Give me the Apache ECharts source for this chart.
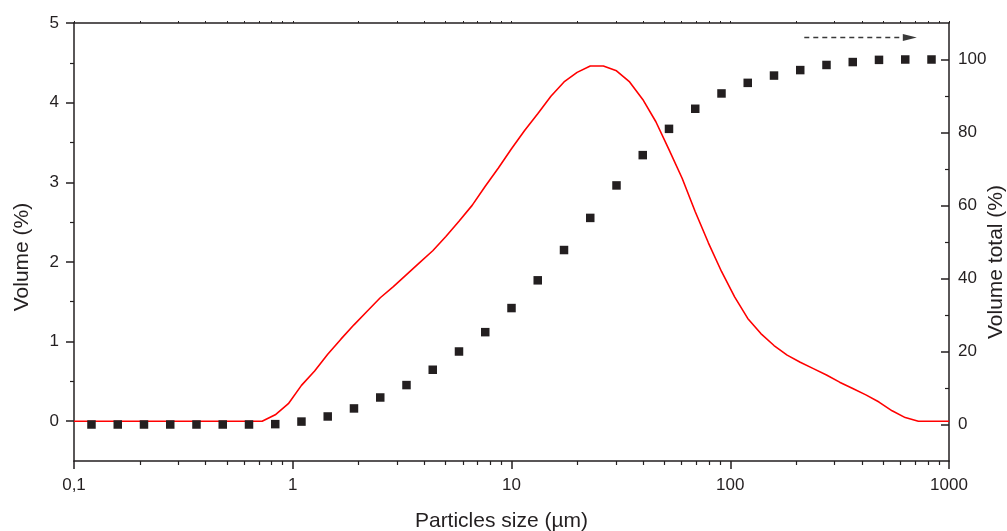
<!DOCTYPE html>
<html>
<head>
<meta charset="utf-8">
<script src="https://cdn.jsdelivr.net/npm/echarts@6/dist/echarts.min.js"></script>
<style>html,body{margin:0;padding:0;background:#fff}#c{width:1007px;height:531px}</style>
</head>
<body>
<div id="c"></div>
<script>
// Particle size (µm) for the frequency curve
const lineSizes = [0.1, 0.7244, 0.8318, 0.955, 1.096, 1.259, 1.445, 1.66, 1.905, 2.188, 2.512, 2.884, 3.311, 3.802, 4.365, 5.012, 5.754, 6.607, 7.586, 8.71, 10, 11.48, 13.18, 15.14, 17.38, 19.95, 22.91, 26.3, 30.2, 34.67, 39.81, 45.71, 52.48, 60.26, 69.18, 79.43, 91.2, 104.7, 120.2, 138, 158.5, 182, 208.9, 239.9, 275.4, 316.2, 363.1, 416.9, 478.6, 549.5, 631, 724.4, 1000];
// Volume (%)
const volume = [0, 0, 0.08, 0.22, 0.45, 0.63, 0.84, 1.03, 1.21, 1.38, 1.55, 1.69, 1.84, 1.99, 2.14, 2.32, 2.51, 2.71, 2.95, 3.18, 3.42, 3.65, 3.86, 4.08, 4.26, 4.38, 4.46, 4.46, 4.40, 4.26, 4.04, 3.76, 3.41, 3.05, 2.63, 2.24, 1.88, 1.56, 1.29, 1.10, 0.95, 0.83, 0.74, 0.66, 0.58, 0.49, 0.41, 0.33, 0.24, 0.13, 0.045, 0, 0];
// Particle size (µm) for the cumulative points
const cumSizes = [0.1202, 0.1585, 0.2089, 0.2754, 0.363, 0.4786, 0.631, 0.8318, 1.096, 1.445, 1.905, 2.512, 3.311, 4.365, 5.754, 7.586, 10, 13.18, 17.38, 22.91, 30.2, 39.81, 52.48, 69.18, 91.2, 120.2, 158.5, 208.9, 275.4, 363.1, 478.6, 631, 831.8];
// Volume total (%)
const volumeTotal = [0, 0, 0, 0, 0, 0, 0, 0.1, 0.8, 2.2, 4.4, 7.4, 10.8, 15.0, 20.0, 25.3, 31.9, 39.5, 47.8, 56.6, 65.5, 73.8, 81.0, 86.5, 90.7, 93.6, 95.6, 97.1, 98.5, 99.3, 99.9, 100, 100];
// Tick values
const xMajorTicks = [0.1, 1, 10, 100, 1000];
const xMinorTicks = [0.2, 0.3, 0.4, 0.5, 0.6, 0.7, 0.8, 0.9, 2, 3, 4, 5, 6, 7, 8, 9, 20, 30, 40, 50, 60, 70, 80, 90, 200, 300, 400, 500, 600, 700, 800, 900];
const yLeftTicks = [0, 1, 2, 3, 4, 5];
const yLeftMinorTicks = [0.5, 1.5, 2.5, 3.5, 4.5];
const yRightTicks = [0, 20, 40, 60, 80, 100];
const yRightMinorTicks = [10, 30, 50, 70, 90];
// Arrow annotation (data coords on the cumulative axes)
const arrowFrom = [218, 106];
const arrowTo = [662, 106];

const INK = '#231f20';
const FONT = 'Liberation Sans';
const lab = {fontFamily: FONT, fontSize: 17, color: INK};
const nameStyle = {fontFamily: FONT, fontSize: 21, color: INK};
const axLine = {show: true, onZero: false, lineStyle: {color: INK, width: 1.5}};
const noLine = {show: false, onZero: false};
const log10 = v => Math.log10(v);

const chart = echarts.init(document.getElementById('c'), null, {renderer: 'canvas'});
chart.setOption({
  animation: false,
  backgroundColor: '#fff',
  grid: {left: 74, right: 58, top: 23, bottom: 70, containLabel: false, outerBoundsMode: 'none'},
  xAxis: [
    {
      type: 'log', logBase: 10, min: 0.1, max: 1000, position: 'bottom',
      name: 'Particles size (µm)', nameLocation: 'middle', nameGap: 50, nameMoveOverlap: false,
      nameTextStyle: Object.assign({padding: [0, 20, 0, 0]}, nameStyle),
      axisLine: axLine,
      axisTick: {show: true, inside: false, length: 8, lineStyle: {color: INK, width: 1.5}},
      axisLabel: Object.assign({margin: 16, formatter: v => String(+(+v).toPrecision(6)).replace('.', ',')}, lab),
      splitLine: {show: false}, minorTick: {show: false}
    },
    {
      type: 'value', min: -1, max: 3, position: 'bottom',
      axisLine: noLine,
      axisTick: {show: true, inside: false, length: 4, customValues: xMinorTicks.map(log10), lineStyle: {color: INK, width: 1.2}},
      axisLabel: {show: false}, splitLine: {show: false}
    },
    {
      type: 'value', min: -1, max: 3, position: 'top',
      axisLine: axLine,
      axisTick: {show: true, inside: false, length: 2, customValues: xMajorTicks.concat(xMinorTicks).map(log10), lineStyle: {color: INK, width: 1}},
      axisLabel: {show: false}, splitLine: {show: false}
    }
  ],
  yAxis: [
    {
      type: 'value', min: -0.5, max: 5, position: 'left',
      name: 'Volume (%)', nameLocation: 'middle', nameGap: 41, nameRotate: 90, nameMoveOverlap: false,
      nameTextStyle: Object.assign({padding: [0, 30, 0, 0]}, nameStyle),
      axisLine: axLine,
      axisTick: {show: true, inside: false, length: 8, customValues: yLeftTicks, lineStyle: {color: INK, width: 1.5}},
      axisLabel: Object.assign({margin: 15, customValues: yLeftTicks}, lab),
      splitLine: {show: false}
    },
    {
      type: 'value', min: -0.5, max: 5, position: 'left',
      axisLine: noLine,
      axisTick: {show: true, inside: false, length: 4, customValues: yLeftMinorTicks, lineStyle: {color: INK, width: 1.2}},
      axisLabel: {show: false}, splitLine: {show: false}
    },
    {
      type: 'value', min: -10, max: 110, position: 'right',
      name: 'Volume total (%)', nameLocation: 'middle', nameGap: 37, nameRotate: 90, nameMoveOverlap: false,
      nameTextStyle: Object.assign({padding: [0, 40, 0, 0]}, nameStyle),
      axisLine: axLine,
      axisTick: {show: true, inside: true, length: 8, customValues: yRightTicks, lineStyle: {color: INK, width: 1.5}},
      axisLabel: Object.assign({margin: 9, customValues: yRightTicks}, lab),
      splitLine: {show: false}
    },
    {
      type: 'value', min: -10, max: 110, position: 'right',
      axisLine: noLine,
      axisTick: {show: true, inside: true, length: 4, customValues: yRightMinorTicks, lineStyle: {color: INK, width: 1.2}},
      axisLabel: {show: false}, splitLine: {show: false}
    }
  ],
  series: [
    {
      type: 'line', xAxisIndex: 0, yAxisIndex: 0,
      data: lineSizes.map((s, i) => [s, volume[i]]),
      symbol: 'none', smooth: false,
      lineStyle: {color: '#ff0000', width: 1.6},
      z: 3
    },
    {
      type: 'scatter', xAxisIndex: 0, yAxisIndex: 2,
      data: cumSizes.map((s, i) => [s, volumeTotal[i]]),
      symbol: 'rect', symbolSize: 8.5,
      itemStyle: {color: INK, opacity: 1},
      z: 4,
      markLine: {
        silent: true, animation: false,
        symbol: ['none', 'triangle'], symbolSize: [7, 14],
        label: {show: false},
        lineStyle: {color: '#3a3a3a', width: 1.3, type: [5, 4], opacity: 1},
        emphasis: {disabled: true},
        data: [[{coord: arrowFrom}, {coord: arrowTo}]]
      }
    }
  ]
});
</script>
</body>
</html>
